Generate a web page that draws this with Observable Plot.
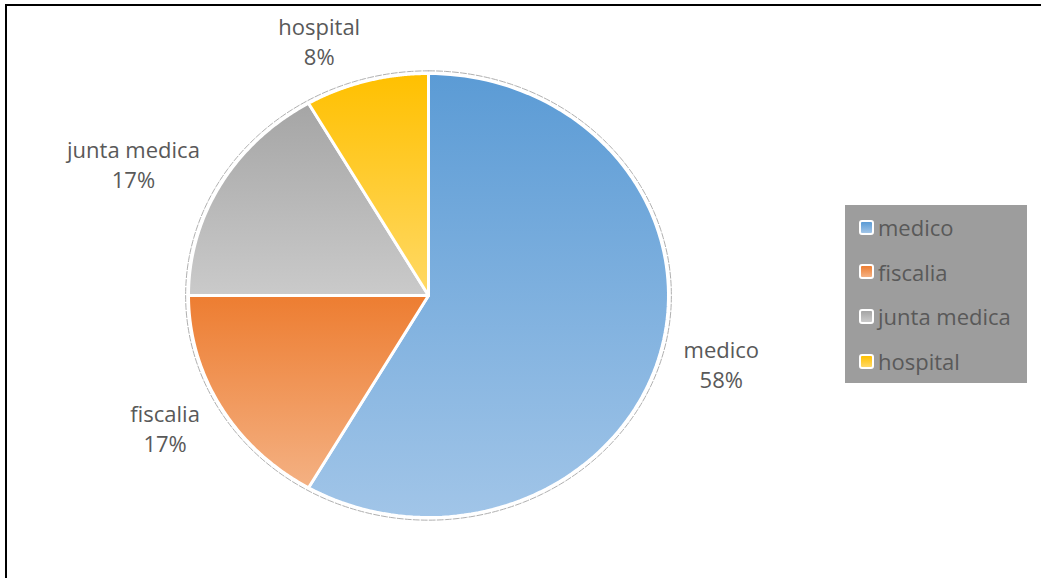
<!DOCTYPE html>
<html>
<head>
<meta charset="utf-8">
<script src="https://cdn.jsdelivr.net/npm/d3@7"></script>
<script src="https://cdn.jsdelivr.net/npm/@observablehq/plot@0.6"></script>
<style>
  html, body { margin: 0; padding: 0; background: #fff; overflow: hidden; }
  #frame { position: absolute; left: 5px; top: 4px; width: 1100px; height: 700px;
           border-left: 2px solid #000; border-top: 2px solid #000; }
  #chart { position: absolute; left: 0; top: 0; }
  #legend { position: absolute; left: 845px; top: 205px; width: 182px; height: 178px;
            background: #9d9d9d; font-family: "Open Sans", sans-serif;
            font-size: 22px; color: #595959; }
  .item { position: absolute; left: 14px; height: 28px; display: flex; align-items: center; white-space: nowrap; }
  .sw { width: 11px; height: 11px; border: 2px solid #fff; border-radius: 3px; margin-right: 4px; box-sizing: content-box; }
</style>
</head>
<body>
<div id="frame"></div>
<div id="chart"></div>
<div id="legend"></div>
<script>
// data
const categories = ["medico", "fiscalia", "junta medica", "hospital"];
const counts = [7, 2, 2, 1];
const percentLabels = ["58%", "17%", "17%", "8%"];
const topColors = ["#5b9bd5", "#ed7d31", "#a5a5a5", "#ffc000"];
const bottomColors = ["#a1c5e8", "#f4b183", "#cacaca", "#ffd966"];

const W = 1041, H = 578;
const mL = 188, mR = 373, mT = 73, mB = 61;
const pxPerUnitX = (W - mL - mR) / 2;
const fontSize = 22;
const font = '"Open Sans", sans-serif';

const pie = d3.pie().sort(null).value(d => d)(counts);

// slice polygons in unit coordinates (angle clockwise from top)
const slicePts = pie.map(a => {
  const pts = [{x: 0, y: 0}];
  const n = 120;
  for (let k = 0; k <= n; k++) {
    const t = a.startAngle + (a.endAngle - a.startAngle) * k / n;
    pts.push({x: Math.sin(t), y: Math.cos(t)});
  }
  pts.push({x: 0, y: 0});
  return pts;
});
const outline = d3.range(0, 361).map(k => {
  const t = k * Math.PI / 180;
  return {x: 1.012 * Math.sin(t), y: 1.012 * Math.cos(t)};
});

// measure label widths to place centred two-line labels outside the pie
const ctx = document.createElement("canvas").getContext("2d");
ctx.font = `${fontSize}px ${font}`;
const labels = pie.map((a, i) => {
  const m = (a.startAngle + a.endAngle) / 2;
  const w = Math.max(ctx.measureText(categories[i]).width, ctx.measureText(percentLabels[i]).width);
  const s = Math.sin(m) >= 0 ? 1 : -1;
  return {
    text: categories[i] + "\n" + percentLabels[i],
    x: 1.1 * Math.sin(m) + s * (w / 2) / pxPerUnitX,
    y: 1.19 * Math.cos(m)
  };
});

const defs = () => {
  const svgNS = "http://www.w3.org/2000/svg";
  const d = document.createElementNS(svgNS, "defs");
  categories.forEach((c, i) => {
    const g = document.createElementNS(svgNS, "linearGradient");
    g.setAttribute("id", "grad" + i);
    g.setAttribute("x1", "0"); g.setAttribute("y1", "0");
    g.setAttribute("x2", "0"); g.setAttribute("y2", "1");
    [[0, topColors[i]], [1, bottomColors[i]]].forEach(([o, col]) => {
      const s = document.createElementNS(svgNS, "stop");
      s.setAttribute("offset", o);
      s.setAttribute("stop-color", col);
      g.appendChild(s);
    });
    d.appendChild(g);
  });
  return d;
};

const plot = Plot.plot({
  width: W,
  height: H,
  marginLeft: mL,
  marginRight: mR,
  marginTop: mT,
  marginBottom: mB,
  x: {domain: [-1, 1], axis: null},
  y: {domain: [-1, 1], axis: null},
  style: {background: "transparent", fontFamily: font},
  marks: [
    defs,
    Plot.line(outline, {x: "x", y: "y", stroke: "#b0b0b0", strokeWidth: 1, strokeDasharray: "6,2", curve: "linear"}),
    ...slicePts.map((pts, i) =>
      Plot.line(pts, {x: "x", y: "y", fill: `url(#grad${i})`, stroke: "#fff", strokeWidth: 3, strokeLinejoin: "round"})
    ),
    Plot.text(labels, {x: "x", y: "y", text: "text", textAnchor: "middle", lineHeight: 1.36, fontSize: fontSize, fill: "#595959"})
  ]
});
document.getElementById("chart").appendChild(plot);

// legend
const legend = document.getElementById("legend");
categories.forEach((c, i) => {
  const it = document.createElement("div");
  it.className = "item";
  it.style.top = (8 + i * 44.7) + "px";
  const sw = document.createElement("span");
  sw.className = "sw";
  sw.style.background = `linear-gradient(${topColors[i]}, ${bottomColors[i]})`;
  const tx = document.createElement("span");
  tx.textContent = c;
  it.appendChild(sw); it.appendChild(tx);
  legend.appendChild(it);
});
</script>
</body>
</html>
